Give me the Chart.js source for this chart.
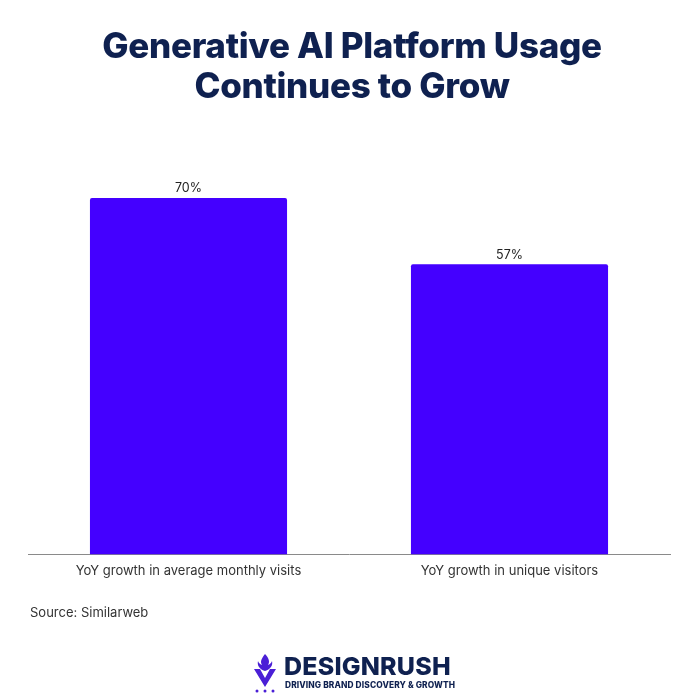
<!DOCTYPE html>
<html>
<head>
<meta charset="utf-8">
<script src="https://cdn.jsdelivr.net/npm/chart.js@4.4.1/dist/chart.umd.min.js"></script>
<style>
  html, body { margin:0; padding:0; background:#fff; }
  #wrap { position:relative; width:700px; height:700px; overflow:hidden; font-family: Inter, "Noto Sans", sans-serif; }
  #c { position:absolute; left:0; top:0; }
  #title { position:absolute; left:2px; top:25px; width:700px; text-align:center; color:#0f2150;
           font-family: Inter, sans-serif; font-weight:800; font-size:35px; line-height:40px; letter-spacing:-0.3px; }
  #source { position:absolute; left:30px; top:604px; font-size:13px; color:#333; font-family: Inter, sans-serif; }
  #logo { position:absolute; left:252px; top:650px; width:200px; height:46px; }
  #logo .name { position:absolute; left:32px; top:2px; font-family: Inter, sans-serif; font-weight:800; font-size:25px; color:#0f2150; letter-spacing:0.2px; line-height:28px; }
  #logo .tag { position:absolute; left:33px; top:30px; font-family: Inter, sans-serif; font-weight:800; font-size:8.4px; color:#0f2150; letter-spacing:0.1px; white-space:nowrap; }
  #logo svg { position:absolute; left:0; top:2px; }
</style>
</head>
<body>
<div id="wrap">
  <canvas id="c" width="700" height="700"></canvas>
  <div id="title">Generative AI Platform Usage<br>Continues to Grow</div>
  <div id="source">Source: Similarweb</div>
  <div id="logo">
    <svg width="26" height="42" viewBox="0 0 26 42">
      <path d="M13 2 C9 7 8 10 10 13 C7 12 6 9 6 9 C5 13 7 17 13 19 C19 17 21 13 20 9 C20 9 19 12 16 13 C18 10 17 6 13 2 Z" fill="#4a1fd6"/>
      <path d="M2 17 L13 35 L24 17 L18 17 L13 26 L8 17 Z" fill="#4a1fd6"/>
      <circle cx="5" cy="39" r="1.5" fill="#4a1fd6"/>
      <circle cx="13" cy="39" r="1.5" fill="#4a1fd6"/>
      <circle cx="21" cy="39" r="1.5" fill="#4a1fd6"/>
    </svg>
    <div class="name">DESIGNRUSH</div>
    <div class="tag">DRIVING BRAND DISCOVERY &amp; GROWTH</div>
  </div>
</div>
<script>
const categories = ["YoY growth in average monthly visits", "YoY growth in unique visitors"];
const growthValues = [70, 57];
const valueLabels = ["70%", "57%"];

const labelPlugin = {
  id: 'valueLabels',
  afterDatasetsDraw(chart) {
    const ctx = chart.ctx;
    const meta = chart.getDatasetMeta(0);
    ctx.save();
    ctx.font = '12.5px Inter, sans-serif';
    ctx.fillStyle = '#222';
    ctx.textAlign = 'center';
    ctx.textBaseline = 'bottom';
    meta.data.forEach((bar, i) => {
      ctx.fillText(valueLabels[i], bar.x, bar.y - 3);
    });
    ctx.restore();
  }
};

new Chart(document.getElementById('c'), {
  type: 'bar',
  data: {
    labels: categories,
    datasets: [{
      data: growthValues,
      backgroundColor: '#4400ff',
      borderRadius: { topLeft: 2, topRight: 2 },
      borderSkipped: 'bottom',
      barPercentage: 0.614,
      categoryPercentage: 1.0
    }]
  },
  options: {
    responsive: false,
    animation: false,
    devicePixelRatio: 1,
    layout: { padding: { left: 28, right: 30, top: 147, bottom: 120 } },
    plugins: { legend: { display: false }, tooltip: { enabled: false }, title: { display: false } },
    scales: {
      x: {
        grid: { display: false },
        border: { display: true, color: '#8a8a8a', width: 1 },
        ticks: { color: '#333', font: { size: 13, family: 'Inter, sans-serif' }, padding: 1, maxRotation: 0 }
      },
      y: { display: false, min: 0, max: 80 }
    }
  },
  plugins: [labelPlugin]
});
</script>
</body>
</html>
